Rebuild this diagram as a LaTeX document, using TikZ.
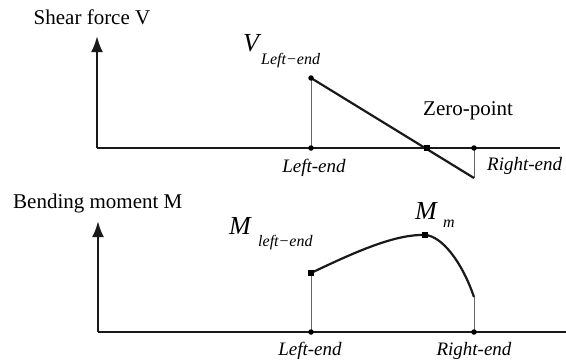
\documentclass[tikz,border=0pt]{standalone}
\usepackage{fontspec}
\setmainfont{Liberation Serif}
\usetikzlibrary{arrows.meta}
\begin{document}
\begin{tikzpicture}[x=1pt,y=-1pt,
  axis/.style={line width=2.5pt,draw=black!90},
  yaxis/.style={axis,-{Latex[length=16pt,width=12pt]}},
  curve/.style={line width=2.2pt,draw=black!90},
  thin/.style={line width=1pt,draw=black!60},
  dot/.style={circle,fill=black,inner sep=0pt,minimum size=5.5pt},
  sq/.style={rectangle,fill=black,inner sep=0pt,minimum size=6.5pt},
  lab/.style={font=\fontsize{21}{21}\selectfont,inner sep=0pt},
  ilab/.style={font=\fontsize{19}{19}\selectfont\itshape,inner sep=0pt},
  big/.style={font=\fontsize{26}{26}\selectfont\itshape,inner sep=0pt},
  sub/.style={font=\fontsize{16}{16}\selectfont\itshape,inner sep=0pt}]
\useasboundingbox (0,0) rectangle (566,364);
% ---------- shear force ----------
\coordinate (o1) at (97,148);
\coordinate (y1) at (97,36);
\coordinate (x1) at (560,148);
\coordinate (l1) at (311,148);
\coordinate (r1) at (474,148);
\coordinate (vl) at (311,78);
\coordinate (vr) at (474,178);
\coordinate (z1) at (427,148);
\draw[yaxis] (o1) -- (y1);
\draw[axis] (o1) -- (x1);
\draw[thin] (l1) -- (vl);
\draw[thin] (r1) -- (vr);
\draw[curve] (vl) -- (vr);
\node[dot] (dl1) at (l1) {};
\node[dot] (dr1) at (r1) {};
\node[dot] (dvl) at (vl) {};
\node[sq] (dz) at (z1) {};
\node[lab,anchor=base] (tv) at (92,24) {Shear force V};
\node[lab,anchor=base west] (tz) at (423,115) {Zero-point};
\node[ilab,anchor=base] (tl1) at (314,172) {Left-end};
\node[ilab,anchor=base west] (tr1) at (487,170) {Right-end};
\node[big,anchor=base west] (tvs) at (243,52) {V};
\node[sub,anchor=base west] (tvsub) at (261,64) {Left−end};
% ---------- bending moment ----------
\coordinate (o2) at (98,332);
\coordinate (y2) at (98,221);
\coordinate (x2) at (566,332);
\coordinate (l2) at (311,332);
\coordinate (r2) at (474,332);
\coordinate (ml) at (311,273);
\coordinate (mm) at (425,235);
\coordinate (mr) at (474,297);
\draw[yaxis] (o2) -- (y2);
\draw[axis] (o2) -- (x2);
\draw[thin] (l2) -- (ml);
\draw[thin] (r2) -- (mr);
\draw[curve] (ml) .. controls (355,252) and (395,234) .. (mm)
  .. controls (442,236) and (462,262) .. (mr);
\node[dot] (dl2) at (l2) {};
\node[dot] (dr2) at (r2) {};
\node[sq,minimum size=6pt] (dml) at (ml) {};
\node[sq] (dmm) at (mm) {};
\node[lab,anchor=base west] (tm) at (13,208) {Bending moment M};
\node[ilab,anchor=base] (tl2) at (310,355) {Left-end};
\node[ilab,anchor=base] (tr2) at (474,355) {Right-end};
\node[big,anchor=base west] (tms) at (229,234) {M};
\node[sub,anchor=base west] (tmsub) at (258,246) {left−end};
\node[big,anchor=base west] (tmm) at (415,219) {M};
\node[sub,anchor=base west] (tmmsub) at (443,227) {m};
\end{tikzpicture}
\end{document}
